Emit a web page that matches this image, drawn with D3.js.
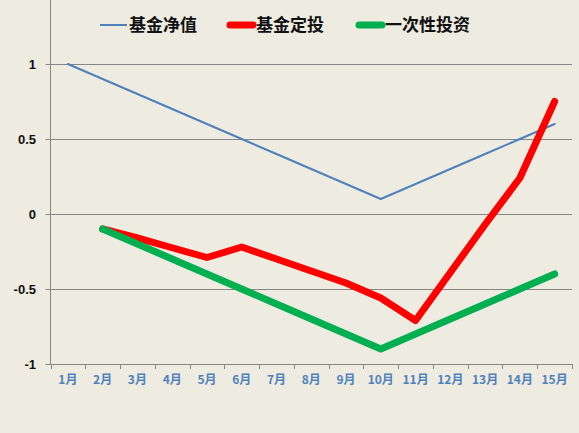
<!DOCTYPE html>
<html>
<head>
<meta charset="utf-8">
<script src="https://cdn.jsdelivr.net/npm/d3@7"></script>
<style>
  body { margin: 0; background: #eeebe1; }
  svg { display: block; }
</style>
</head>
<body>
<svg id="chart" width="579" height="433"></svg>
<script>
// chart data
const months = ["1月","2月","3月","4月","5月","6月","7月","8月","9月","10月","11月","12月","13月","14月","15月"]
const navValues = [1, 0.9, 0.8, 0.7, 0.6, 0.5, 0.4, 0.3, 0.2, 0.1, 0.2, 0.3, 0.4, 0.5, 0.6]
const dcaValues = [null, -0.1, -0.16, -0.225, -0.29, -0.22, -0.3, -0.38, -0.46, -0.56, -0.71, -0.39, -0.07, 0.24, 0.75]
const lumpValues = [null, -0.1, -0.2, -0.3, -0.4, -0.5, -0.6, -0.7, -0.8, -0.9, -0.8, -0.7, -0.6, -0.5, -0.4]
const yTicks = [-1, -0.5, 0, 0.5, 1]
const seriesNames = ["基金净值", "基金定投", "一次性投资"]

// small stand-in for d3-selection-multi
d3.selection.prototype.attrs = function(obj) {
  Object.keys(obj).forEach(k => this.attr(k, obj[k]))
  return this
}

const series = [
  {name: seriesNames[0], values: navValues, color: "#4f81bd", width: 2},
  {name: seriesNames[1], values: dcaValues, color: "#ff0000", width: 7},
  {name: seriesNames[2], values: lumpValues, color: "#00b050", width: 7},
]

const svg = d3.select("#chart")
const left = 50.5, right = 572, bottom = 364

const x = d3.scaleBand()
  .domain(months)
  .range([left, right])
const y = d3.scaleLinear()
  .domain([-1, 1])
  .range([bottom, 64])

// gridlines
svg.append("g")
  .selectAll("line")
  .data(yTicks.filter(d => d != -1))
  .enter().append("line")
  .attrs({
    x1: left - 5, x2: right,
    y1: d => Math.round(y(d)) + 0.5, y2: d => Math.round(y(d)) + 0.5,
    stroke: "#878787", "stroke-width": 1
  })

// y axis
svg.append("line")
  .attrs({x1: left, x2: left, y1: 0, y2: bottom, stroke: "#878787"})
svg.append("g")
  .selectAll("text")
  .data(yTicks)
  .enter().append("text")
  .attrs({
    x: 36, y: d => y(d), dy: ".35em", "text-anchor": "end",
    "font-family": "Liberation Sans, Arial, sans-serif", "font-size": 13, "font-weight": "bold", fill: "#111"
  })
  .text(d => d)

// x axis
const xAxis = svg.append("g")
  .attr("transform", `translate(0, ${bottom + 0.5})`)
  .call(d3.axisBottom(x).tickSize(0).tickPadding(11))
xAxis.select(".domain").attrs({stroke: "#878787", d: `M${left - 5},0H${right}`})
xAxis.selectAll("text")
  .attrs({"font-family": "Noto Sans CJK SC, sans-serif", "font-size": 12, "font-weight": "bold", fill: "#4f81bd"})
svg.append("g")
  .selectAll("line")
  .data(months.map(m => x(m)).concat([right]))
  .enter().append("line")
  .attrs({x1: d => Math.round(d) + 0.5, x2: d => Math.round(d) + 0.5, y1: bottom, y2: bottom + 5, stroke: "#878787"})

// lines
const lineGen = d3.line()
  .defined(d => d != null)
  .x((d, i) => x(months[i]) + x.bandwidth() / 2)
  .y(d => y(d))

svg.append("g")
  .selectAll("path")
  .data(series)
  .enter().append("path")
  .attrs({
    d: d => lineGen(d.values),
    fill: "none",
    stroke: d => d.color,
    "stroke-width": d => d.width,
    "stroke-linejoin": "round",
    "stroke-linecap": "round"
  })

// legend
const legendX = [100, 227, 356]
const legend = svg.append("g")
  .selectAll("g")
  .data(series)
  .enter().append("g")
  .attr("transform", (d, i) => `translate(${legendX[i]}, 25)`)
legend.append("line")
  .attrs({
    x1: d => d.width > 2 ? 3 : 0, x2: d => d.width > 2 ? 26 : 27, y1: 0, y2: 0,
    stroke: d => d.color, "stroke-width": d => d.width, "stroke-linecap": d => d.width > 2 ? "round" : "butt"
  })
legend.append("text")
  .attrs({
    x: 29, y: 0, dy: ".36em",
    "font-family": "Noto Sans CJK SC, sans-serif", "font-size": 17, "font-weight": "bold", fill: "#111"
  })
  .text(d => d.name)
</script>
</body>
</html>
